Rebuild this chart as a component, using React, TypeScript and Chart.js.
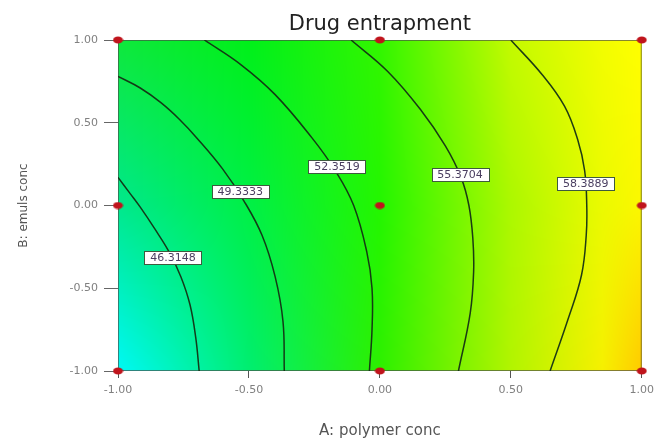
import React, { useEffect, useRef } from 'react';
import { Chart, registerables } from 'chart.js';

Chart.register(...registerables);

// ---- data ----
const xTickValues = [-1, -0.5, 0, 0.5, 1];
const yTickValues = [-1, -0.5, 0, 0.5, 1];

const contourLevels = ['46.3148', '49.3333', '52.3519', '55.3704', '58.3889'];

const contour46X = [-1, -0.955, -0.915, -0.86, -0.805, -0.76, -0.725, -0.703, -0.69];
const contour46Y = [0.17, 0.075, -0.01, -0.14, -0.28, -0.43, -0.6, -0.8, -1.0];

const contour49X = [-1, -0.915, -0.835, -0.765, -0.7, -0.6, -0.52, -0.45, -0.4, -0.37, -0.365];
const contour49Y = [0.78, 0.71, 0.62, 0.52, 0.41, 0.22, 0.03, -0.18, -0.43, -0.7, -1.0];

const contour52X = [-0.67, -0.53, -0.4, -0.26, -0.17, -0.1, -0.05, -0.03, -0.03, -0.04];
const contour52Y = [1.0, 0.85, 0.67, 0.41, 0.21, 0.0, -0.28, -0.5, -0.75, -1.0];

const contour55X = [-0.11, 0.03, 0.155, 0.25, 0.31, 0.34, 0.355, 0.358, 0.345, 0.3];
const contour55Y = [1.0, 0.81, 0.58, 0.36, 0.17, 0.0, -0.2, -0.4, -0.65, -1.0];

const contour58X = [0.5, 0.62, 0.705, 0.755, 0.782, 0.79, 0.788, 0.77, 0.72, 0.65];
const contour58Y = [1.0, 0.79, 0.6, 0.4, 0.21, 0.0, -0.18, -0.42, -0.68, -1.0];

const labelX = [-0.79, -0.533, -0.164, 0.306, 0.786];
const labelY = [-0.317, 0.082, 0.233, 0.185, 0.133];

const designX = [-1, 0, 1, -1, 0, 1, -1, 0, 1];
const designY = [1, 1, 1, 0, 0, 0, -1, -1, -1];

// ---- surface colour style (response colour map, by region) ----
const SURF_X = [-1, -0.5, 0, 0.5, 0.85, 1];
const SURF_Y = [1, 0, -1];
const SURF_COLORS = [
  [[15, 232, 60], [0, 240, 25], [50, 246, 0], [195, 250, 0], [242, 253, 0], [255, 255, 0]],
  [[0, 232, 140], [0, 240, 70], [35, 246, 0], [172, 248, 0], [235, 250, 0], [252, 247, 0]],
  [[0, 248, 245], [0, 238, 112], [45, 240, 0], [178, 244, 0], [246, 240, 0], [255, 202, 0]],
];

const FONT = "'DejaVu Sans', 'Liberation Sans', Arial, sans-serif";

function zip(xs: number[], ys: number[]) {
  return xs.map((x, i) => ({ x, y: ys[i] }));
}

function rowColor(r: number, xv: number): number[] {
  const cols = SURF_COLORS[r];
  if (xv <= SURF_X[0]) return cols[0];
  for (let i = 0; i < SURF_X.length - 1; i++) {
    if (xv <= SURF_X[i + 1]) {
      const t = (xv - SURF_X[i]) / (SURF_X[i + 1] - SURF_X[i]);
      const a = cols[i];
      const b = cols[i + 1];
      return [a[0] + (b[0] - a[0]) * t, a[1] + (b[1] - a[1]) * t, a[2] + (b[2] - a[2]) * t];
    }
  }
  return cols[cols.length - 1];
}

function sampleColor(xv: number, yv: number): number[] {
  let r0 = 0;
  let t = 0;
  if (yv >= SURF_Y[0]) { r0 = 0; t = 0; }
  else if (yv <= SURF_Y[SURF_Y.length - 1]) { r0 = SURF_Y.length - 2; t = 1; }
  else {
    for (let i = 0; i < SURF_Y.length - 1; i++) {
      if (yv <= SURF_Y[i] && yv >= SURF_Y[i + 1]) {
        r0 = i;
        t = (SURF_Y[i] - yv) / (SURF_Y[i] - SURF_Y[i + 1]);
        break;
      }
    }
  }
  const a = rowColor(r0, xv);
  const b = rowColor(r0 + 1, xv);
  return [a[0] + (b[0] - a[0]) * t, a[1] + (b[1] - a[1]) * t, a[2] + (b[2] - a[2]) * t];
}

const surfacePlugin = {
  id: 'surface',
  beforeDraw(chart: any) {
    const { ctx, chartArea: a, scales } = chart;
    const w = Math.round(a.right - a.left);
    const h = Math.round(a.bottom - a.top);
    if (w <= 0 || h <= 0) return;
    const off = document.createElement('canvas');
    off.width = w;
    off.height = h;
    const octx = off.getContext('2d')!;
    const img = octx.createImageData(w, h);
    for (let j = 0; j < h; j++) {
      const yv = scales.y.getValueForPixel(a.top + j + 0.5);
      for (let i = 0; i < w; i++) {
        const xv = scales.x.getValueForPixel(a.left + i + 0.5);
        const c = sampleColor(xv, yv);
        const k = (j * w + i) * 4;
        img.data[k] = c[0];
        img.data[k + 1] = c[1];
        img.data[k + 2] = c[2];
        img.data[k + 3] = 255;
      }
    }
    octx.putImageData(img, 0, 0);
    ctx.save();
    ctx.drawImage(off, a.left, a.top);
    ctx.restore();
  },
  beforeDatasetsDraw(chart: any) {
    const { ctx, chartArea: a } = chart;
    ctx.save();
    ctx.strokeStyle = 'rgba(70,70,70,0.65)';
    ctx.lineWidth = 1;
    ctx.strokeRect(a.left + 0.5, a.top + 0.5, a.right - a.left - 1, a.bottom - a.top - 1);
    ctx.restore();
  },
};

const labelPlugin = {
  id: 'contourLabels',
  afterDatasetsDraw(chart: any) {
    const { ctx, scales } = chart;
    ctx.save();
    ctx.font = `11px ${FONT}`;
    ctx.textAlign = 'center';
    ctx.textBaseline = 'middle';
    contourLevels.forEach((txt, i) => {
      const px = scales.x.getPixelForValue(labelX[i]);
      const py = scales.y.getPixelForValue(labelY[i]);
      const tw = ctx.measureText(txt).width;
      const bw = Math.round(tw + 12);
      const bh = 13;
      const bx = Math.round(px - bw / 2) + 0.5;
      const by = Math.round(py - bh / 2) + 0.5;
      ctx.fillStyle = '#ffffff';
      ctx.fillRect(bx, by, bw, bh);
      ctx.strokeStyle = '#3e5a3e';
      ctx.lineWidth = 1;
      ctx.strokeRect(bx, by, bw, bh);
      ctx.fillStyle = '#4a3e60';
      ctx.fillText(txt, px, py + 0.5);
    });
    ctx.restore();
  },
};

function makeDot() {
  const c = document.createElement('canvas');
  c.width = 11;
  c.height = 8;
  const g = c.getContext('2d')!;
  g.fillStyle = '#c0141c';
  g.beginPath();
  g.ellipse(5.5, 4, 5, 3.5, 0, 0, Math.PI * 2);
  g.fill();
  return c;
}

export default function App() {
  const ref = useRef<HTMLCanvasElement>(null);

  useEffect(() => {
    document.body.style.margin = '0';
    if (!ref.current) return;
    const lineStyle = {
      showLine: true,
      pointRadius: 0,
      borderColor: 'rgba(20,48,20,0.95)',
      borderWidth: 1.5,
      tension: 0.4,
      fill: false,
    };
    const chart = new Chart(ref.current, {
      type: 'scatter',
      data: {
        datasets: [
          { ...lineStyle, label: contourLevels[0], data: zip(contour46X, contour46Y) },
          { ...lineStyle, label: contourLevels[1], data: zip(contour49X, contour49Y) },
          { ...lineStyle, label: contourLevels[2], data: zip(contour52X, contour52Y) },
          { ...lineStyle, label: contourLevels[3], data: zip(contour55X, contour55Y) },
          { ...lineStyle, label: contourLevels[4], data: zip(contour58X, contour58Y) },
          {
            label: 'Design points',
            data: zip(designX, designY),
            pointStyle: makeDot() as any,
            pointRadius: 5,
            showLine: false,
            clip: false as any,
          },
        ] as any,
      },
      options: {
        animation: false,
        responsive: false,
        maintainAspectRatio: false,
        events: [],
        layout: { padding: { left: 0, right: 17, top: 0, bottom: 0 } },
        plugins: {
          legend: { display: false },
          tooltip: { enabled: false },
          title: {
            display: true,
            text: 'Drug entrapment',
            fullSize: false,
            color: '#222222',
            font: { family: FONT, size: 21, weight: 'normal', lineHeight: 1.2 },
            padding: { top: 12, bottom: 2.8 },
          },
        },
        scales: {
          x: {
            type: 'linear',
            min: -1,
            max: 1,
            afterBuildTicks: (s: any) => { s.ticks = xTickValues.map((v) => ({ value: v })); },
            afterFit: (s: any) => { s.height = 68; },
            border: { display: false },
            grid: {
              drawOnChartArea: false,
              drawTicks: true,
              tickLength: 7,
              tickColor: '#555555',
              color: '#555555',
            },
            ticks: {
              padding: 6,
              color: '#808080',
              font: { family: FONT, size: 11 },
              callback: (v: any) => Number(v).toFixed(2),
            },
            title: {
              display: true,
              text: 'A: polymer conc',
              color: '#555555',
              font: { family: FONT, size: 15, lineHeight: 1 },
              padding: { top: 0, bottom: 0 },
            },
          },
          y: {
            type: 'linear',
            min: -1,
            max: 1,
            afterBuildTicks: (s: any) => { s.ticks = yTickValues.map((v) => ({ value: v })); },
            afterFit: (s: any) => { s.width = 118; },
            border: { display: false },
            grid: {
              drawOnChartArea: false,
              drawTicks: true,
              tickLength: 14,
              tickColor: '#666666',
              color: '#666666',
            },
            ticks: {
              padding: 6,
              color: '#808080',
              font: { family: FONT, size: 11 },
              callback: (v: any) => Number(v).toFixed(2),
            },
            title: {
              display: true,
              text: 'B: emuls conc',
              color: '#555555',
              font: { family: FONT, size: 12, lineHeight: 1 },
              padding: { top: 18, bottom: 0 },
            },
          },
        },
      } as any,
      plugins: [surfacePlugin, labelPlugin],
    });
    return () => chart.destroy();
  }, []);

  return (
    <div style={{ width: 660, height: 439, position: 'relative' }}>
      <canvas ref={ref} width={660} height={439} style={{ width: 660, height: 439, display: 'block' }} />
    </div>
  );
}
